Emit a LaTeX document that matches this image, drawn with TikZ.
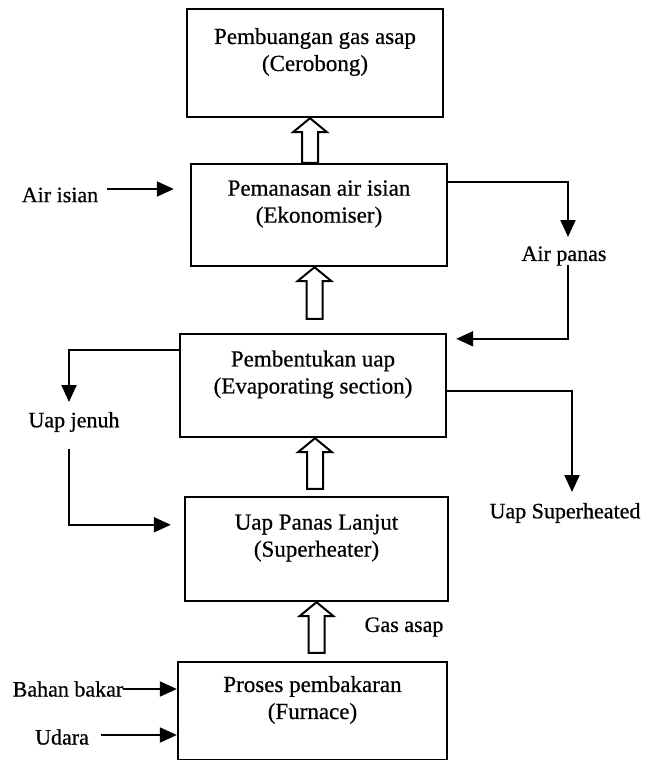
\documentclass[tikz,border=0pt]{standalone}
\usepackage{fontspec}
\setmainfont{Liberation Serif}[RawFeature={embolden=0.6}]
\usetikzlibrary{arrows.meta,calc}
\tikzset{
  box/.style={draw, line width=2.4pt, align=center, font=\fontsize{23}{27}\selectfont, inner sep=0pt},
  lbl/.style={font=\fontsize{22}{27}\selectfont, inner sep=0pt},
  conn/.style={line width=2pt, -{Triangle[length=17pt,width=15pt]}},
  blockarr/.style={draw, line width=2pt, fill=white, line join=miter},
}
\newcommand{\blockarrow}[2]{%
  \draw[blockarr] let \p1=(#1), \p2=(#2) in
    (\x1-8pt,\y2) -- (\x1-8pt,\y1-14pt) -- (\x1-17pt,\y1-14pt) -- (\x1,\y1)
    -- (\x1+17pt,\y1-14pt) -- (\x1+8pt,\y1-14pt) -- (\x1+8pt,\y2) -- cycle;}
\begin{document}
\begin{tikzpicture}[x=1pt,y=-1pt]
\useasboundingbox[fill=white] (0,0) rectangle (645,760);

% boxes
\node[box, minimum width=256pt, minimum height=108pt] (b1) at (315,63)
  {Pembuangan gas asap\\(Cerobong)\\\mbox{}};
\node[box, minimum width=256pt, minimum height=102pt] (b2) at (319,215)
  {Pemanasan air isian\\(Ekonomiser)\\\mbox{}};
\node[box, minimum width=266pt, minimum height=103pt] (b3) at (313,385.5)
  {Pembentukan uap\\(Evaporating section)\\\mbox{}};
\node[box, minimum width=263pt, minimum height=104pt] (b4) at (316.5,549)
  {Uap Panas Lanjut\\(Superheater)\\\mbox{}};
\node[box, minimum width=269pt, minimum height=98pt] (b5) at (312.5,711)
  {Proses pembakaran\\(Furnace)\\\mbox{}};

% hollow flue-gas arrows
\blockarrow{[xshift=-5pt]b1.south}{[xshift=-5pt]b2.north}
\blockarrow{[xshift=-4.5pt]b2.south}{[yshift=14pt]b3.north}
\blockarrow{[xshift=2pt]b3.south}{[yshift=7pt]b4.north}
\blockarrow{b4.south}{[yshift=8pt]b5.north}
\node[lbl] (ga) at (404,627) {Gas asap};

% Air isian
\node[lbl] (ai) at (60,195) {Air isian};
\path ([yshift=6pt]ai.east) coordinate (ai0);
\draw[conn, shorten <=9pt, shorten >=16pt] (ai0) -- (ai0 -| b2.west);

% Air panas
\node[lbl] (ap) at (564,256) {Air panas};
\coordinate (apin) at (568,237);
\coordinate (apout) at (568,265);
\draw[conn] ([yshift=-19pt]b2.north east) -| (apin);
\draw[conn, shorten >=9pt] (apout) |- ([yshift=-6pt]b3.north east);

% Uap jenuh
\node[lbl] (uj) at (74,422) {Uap jenuh};
\coordinate (ujin) at (69,402);
\coordinate (ujout) at (69,449);
\draw[conn] ([yshift=-17pt]b3.north west) -| (ujin);
\draw[conn, shorten >=13pt] (ujout) |- ([yshift=-29pt]b4.north west);

% Uap Superheated
\node[lbl] (us) at (565,513) {Uap Superheated};
\coordinate (usin) at (572,492);
\draw[conn] ([yshift=-58pt]b3.north east) -| (usin);

% Bahan bakar, Udara
\node[lbl] (bb) at (68,689) {Bahan bakar};
\draw[conn] (bb.east) -- (bb.east -| b5.west);
\node[lbl] (ud) at (62,737) {Udara};
\path ([xshift=12pt,yshift=2pt]ud.east) coordinate (ud0);
\draw[conn] (ud0) -- (ud0 -| b5.west);
\end{tikzpicture}
\end{document}
